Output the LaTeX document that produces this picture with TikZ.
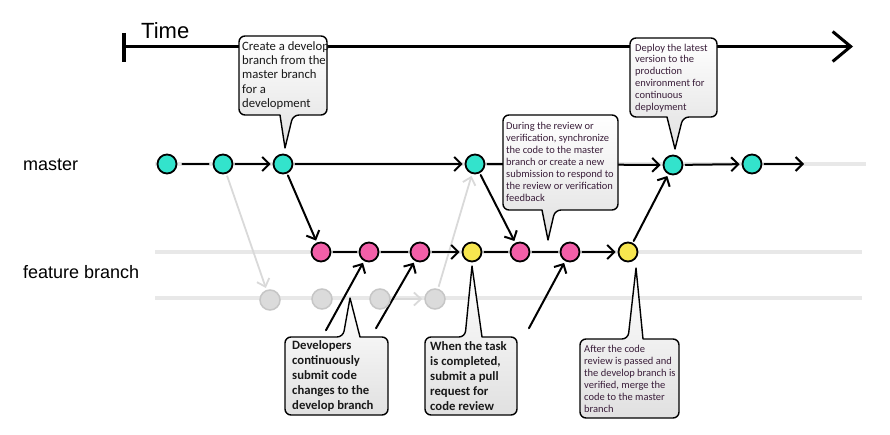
\documentclass[tikz,border=0pt]{standalone}
\usepackage{fontspec}
\setmainfont{Carlito}
\newfontfamily\lanefont{Liberation Sans}
\usetikzlibrary{arrows.meta,calc}
\pgfdeclarelayer{lanes}
\pgfdeclarelayer{bubbles}
\pgfsetlayers{lanes,bubbles,main}
\definecolor{tealnode}{HTML}{33E3CC}
\definecolor{pinknode}{HTML}{F25FA8}
\definecolor{yellownode}{HTML}{F7E64F}
\definecolor{notetext}{HTML}{3A1E3A}

\begin{document}
\begin{tikzpicture}[x=1pt,y=-1pt,
  commit/.style={circle, draw=black, line width=1.8pt, minimum size=19pt, inner sep=0pt},
  mcommit/.style={commit, fill=tealnode},
  fcommit/.style={commit, fill=pinknode},
  ycommit/.style={commit, fill=yellownode},
  gcommit/.style={circle, draw=gray!45, fill=gray!28, line width=1.5pt, minimum size=20pt, inner sep=0pt},
  flow/.style={draw=black, line width=2pt, line cap=round, shorten >=2pt, shorten <=2pt},
  flowarrow/.style={flow, -{Straight Barb[length=7pt,width=14pt,line width=2pt]}},
  ghostarrow/.style={draw=gray!30, line width=1.8pt, shorten >=2pt, shorten <=2pt,
    -{Straight Barb[length=7pt,width=13pt,line width=1.8pt]}},
  lane/.style={draw=gray!18, line width=3.5pt},
  lanelabel/.style={font=\lanefont\fontsize{18}{20}\selectfont, anchor=west, inner sep=0pt},
  notetextbox/.style={anchor=west, inner sep=0pt, align=left},
  darknote/.style={notetextbox, text=black!90, font=\fontsize{12.7}{14.3}\selectfont},
  boldnote/.style={notetextbox, text=black!90, font=\fontsize{12.7}{14.8}\selectfont\bfseries},
  softnote/.style={notetextbox, text=notetext, font=\fontsize{10.5}{11.9}\selectfont},
  bubble/.style={draw=black, line width=1.4pt, top color=white, bottom color=gray!24, line join=round},
]
\useasboundingbox (0,0) rectangle (890,435);

% ---------- time axis ----------
\node[font=\lanefont\fontsize{22}{24}\selectfont, anchor=base west, inner sep=0pt] (timelabel) at (141,39) {Time};
\coordinate (tickTop) at (124,33);
\coordinate (tickBot) at (124,62);
\coordinate (tstart) at (124,46.5);
\coordinate (tend) at (853,46.5);

% ---------- lane labels ----------
\node[lanelabel] (masterlabel) at (23,165) {master};
\node[lanelabel] (featurelabel) at (23,272) {feature branch};

% ---------- commits ----------
\node[mcommit] (m1) at (167,164) {};
\node[mcommit] (m2) at (223,164) {};
\node[mcommit] (m3) at (283,164) {};
\node[mcommit] (m4) at (475,164) {};
\node[mcommit] (m5) at (673,165) {};
\node[mcommit] (m6) at (752,164) {};
\coordinate (mend) at (806,164);

\node[fcommit] (f1) at (321,252) {};
\node[fcommit] (f2) at (369,252) {};
\node[fcommit] (f3) at (420,252) {};
\node[ycommit] (y1) at (472,252) {};
\node[fcommit] (f4) at (520,252) {};
\node[fcommit] (f5) at (570,252) {};
\node[ycommit] (y2) at (628,252) {};

\node[gcommit] (g1) at (270,300) {};
\node[gcommit] (g2) at (322,299) {};
\node[gcommit] (g3) at (380,299) {};
\node[gcommit] (g4) at (435,299) {};

% free ends of the incoming commits
\coordinate (s1) at (325,332);
\coordinate (s2) at (375,330);
\coordinate (s3) at (528,330);

% ---------- lanes and connectors ----------
\begin{pgfonlayer}{lanes}
  \coordinate (mlaneL) at (155,164);
  \coordinate (mlaneR) at (866,164);
  \coordinate (flaneL) at (155,252);
  \coordinate (flaneR) at (862,252);
  \coordinate (glaneL) at (155,298);
  \coordinate (glaneR) at (862,298);
  \draw[lane] (mlaneL) -- (mlaneR);
  \draw[lane] (flaneL) -- (flaneR);
  \draw[lane] (glaneL) -- (glaneR);

  \draw[line width=4pt] (tickTop) -- (tickBot);
  \draw[line width=3pt, -{Straight Barb[length=18pt,width=30pt,line width=3pt]}] (tstart) -- (tend);

  \draw[ghostarrow] (m2) -- (g1);
  \draw[ghostarrow] (g3) -- (g4);
  \draw[ghostarrow] (g4) -- (m4);

  \draw[flow, shorten <=5pt, shorten >=4pt] (m1) -- (m2);
  \draw[flowarrow] (m2) -- (m3);
  \draw[flowarrow] (m3) -- (m4);
  \draw[flowarrow] (m4) -- (m5);
  \draw[flowarrow] (m5) -- (m6);
  \draw[flowarrow] (m6) -- (mend);

  \draw[flowarrow] (m3) -- (f1);
  \draw[flow] (f1) -- (f2);
  \draw[flow] (f2) -- (f3);
  \draw[flowarrow] (f3) -- (y1);
  \draw[flow] (y1) -- (f4);
  \draw[flow] (f4) -- (f5);
  \draw[flowarrow] (f5) -- (y2);
  \draw[flowarrow] (m4) -- (f4);
  \draw[flowarrow] (y2) -- (m5);

  \draw[flowarrow] (s1) -- (f2);
  \draw[flowarrow] (s2) -- (f3);
  \draw[flowarrow] (s3) -- (f5);
\end{pgfonlayer}

% ---------- notes: box corners, tail tips and texts ----------
\coordinate (b1nw) at (239,36);  \coordinate (b1se) at (327,115); \coordinate (t1) at (285,148);
\coordinate (b2nw) at (630,38);  \coordinate (b2se) at (717,117); \coordinate (t2) at (675,149);
\coordinate (b3nw) at (503,115); \coordinate (b3se) at (618,210); \coordinate (t3) at (548,240);
\coordinate (b4nw) at (285,337); \coordinate (b4se) at (388,415); \coordinate (t4) at (350,298);
\coordinate (b5nw) at (425,337); \coordinate (b5se) at (517,415); \coordinate (t5) at (472,266);
\coordinate (b6nw) at (580,339); \coordinate (b6se) at (679,418); \coordinate (t6) at (636,268);

\node[darknote] (c1) at (242,75.5)
  {Create a develop\\branch from the\\master branch\\for a\\development};
\node[softnote] (c2) at (635,78)
  {Deploy the latest\\version to the\\production\\environment for\\continuous\\deployment};
\node[softnote] (c3) at (506,162)
  {During the review or\\verification, synchronize\\the code to the master\\branch or create a new\\submission to respond to\\the review or verification\\feedback};
\node[boldnote] (c4) at (292,376)
  {Developers\\continuously\\submit code\\changes to the\\develop branch};
\node[boldnote] (c5) at (430,376)
  {When the task\\is completed,\\submit a pull\\request for\\code review};
\node[softnote] (c6) at (584,379)
  {After the code\\review is passed and\\the develop branch is\\verified, merge the\\code to the master\\branch};

\begin{pgfonlayer}{bubbles}
  % speech bubbles with a tail below
  \path[bubble] (b1nw |- 0,75) [rounded corners=6pt] -- (b1nw) -- (b1nw -| b1se) -- (b1se)
    -- (293,115) [sharp corners] -- (t1) -- (280,115)
    [rounded corners=6pt] -- (b1nw |- b1se) -- cycle;
  \path[bubble] (b2nw |- 0,77) [rounded corners=6pt] -- (b2nw) -- (b2nw -| b2se) -- (b2se)
    -- (683,117) [sharp corners] -- (t2) -- (667,117)
    [rounded corners=6pt] -- (b2nw |- b2se) -- cycle;
  \path[bubble] (b3nw |- 0,162) [rounded corners=6pt] -- (b3nw) -- (b3nw -| b3se) -- (b3se)
    -- (555,210) [sharp corners] -- (t3) -- (542,210)
    [rounded corners=6pt] -- (b3nw |- b3se) -- cycle;
  % speech bubbles with a tail above
  \path[bubble] (b4nw |- 0,376) [rounded corners=6pt] -- (b4nw)
    -- (343,337) [sharp corners] -- (t4) -- (360,337)
    [rounded corners=6pt] -- (b4nw -| b4se) -- (b4se) -- (b4nw |- b4se) -- cycle;
  \path[bubble] (b5nw |- 0,376) [rounded corners=6pt] -- (b5nw)
    -- (465,337) [sharp corners] -- (t5) -- (482,337)
    [rounded corners=6pt] -- (b5nw -| b5se) -- (b5se) -- (b5nw |- b5se) -- cycle;
  \path[bubble] (b6nw |- 0,378) [rounded corners=6pt] -- (b6nw)
    -- (628,339) [sharp corners] -- (t6) -- (643,339)
    [rounded corners=6pt] -- (b6nw -| b6se) -- (b6se) -- (b6nw |- b6se) -- cycle;
\end{pgfonlayer}
\end{tikzpicture}
\end{document}
